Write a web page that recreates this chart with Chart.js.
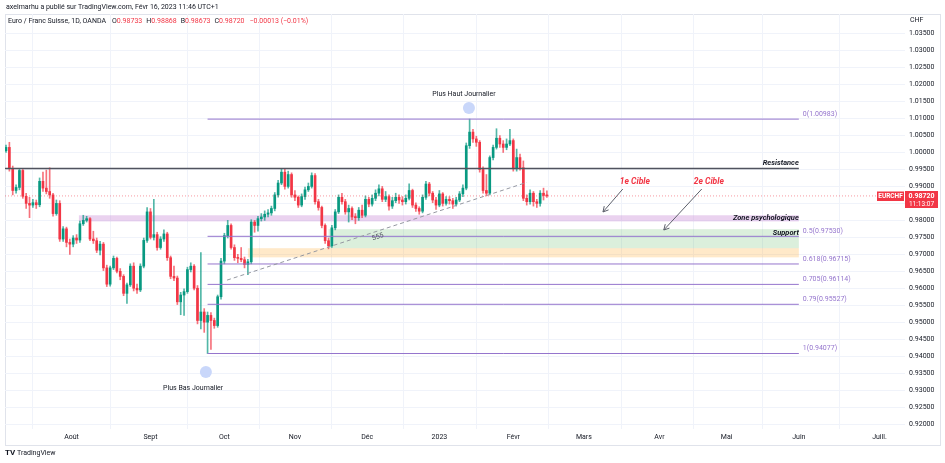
<!DOCTYPE html>
<html>
<head>
<meta charset="utf-8">
<script src="https://cdn.jsdelivr.net/npm/chart.js@4.4.1/dist/chart.umd.min.js"></script>
<style>
html,body{margin:0;padding:0;background:#fff}
#wrap{width:945px;height:463px;position:relative}
</style>
</head>
<body>
<div id="wrap"><canvas id="chart"></canvas></div>
<script>
// EURCHF daily candles, Jul 2022 -> Feb 16 2023
const firstOpen = 1.0005;
const closes = [
	1.0015,0.9953,0.9888,0.9897,0.9947,0.9871,0.9850,0.9845,0.9852,0.9846,
	0.9915,0.9895,0.9885,0.9875,0.9820,0.9850,0.9745,0.9775,0.9735,0.9730,
	0.9748,0.9742,0.9790,0.9800,0.9805,0.9745,0.9740,0.9712,0.9730,0.9660,
	0.9612,0.9660,0.9688,0.9650,0.9635,0.9585,0.9610,0.9665,0.9600,0.9595,
	0.9665,0.9741,0.9825,0.9750,0.9758,0.9720,0.9745,0.9760,0.9690,0.9635,
	0.9630,0.9560,0.9580,0.9590,0.9655,0.9665,0.9600,0.9505,0.9530,0.9500,
	0.9520,0.9505,0.9490,0.9575,0.9680,0.9755,0.9785,0.9720,0.9690,0.9688,
	0.9684,0.9670,0.9678,0.9795,0.9785,0.9805,0.9810,0.9818,0.9822,0.9835,
	0.9875,0.9910,0.9942,0.9900,0.9935,0.9875,0.9868,0.9845,0.9870,0.9890,
	0.9900,0.9932,0.9855,0.9838,0.9785,0.9740,0.9725,0.9778,0.9825,0.9868,
	0.9855,0.9825,0.9835,0.9810,0.9808,0.9830,0.9815,0.9862,0.9848,0.9865,
	0.9880,0.9893,0.9862,0.9870,0.9842,0.9858,0.9868,0.9860,0.9855,0.9865,
	0.9888,0.9845,0.9835,0.9827,0.9868,0.9907,0.9880,0.9860,0.9845,0.9878,
	0.9850,0.9862,0.9858,0.9848,0.9860,0.9878,0.9895,1.0020,1.0060,1.0040,
	1.0030,0.9950,0.9888,0.9880,0.9985,1.0015,1.0042,1.0025,1.0015,1.0025,
	1.0035,0.9952,0.9985,0.9955,0.9865,0.9855,0.9880,0.9855,0.9850,0.9880,
	0.98733,0.98720
];
const highs = [
	1.0022,1.0030,0.9960,0.9905,0.9952,0.9950,0.9880,0.9868,0.9862,0.9860,
	0.9925,0.9942,0.9948,0.9955,0.9880,0.9860,0.9858,0.9782,0.9780,0.9745,
	0.9755,0.9758,0.9798,0.9815,0.9812,0.9808,0.9768,0.9748,0.9738,0.9735,
	0.9668,0.9665,0.9695,0.9692,0.9658,0.9640,0.9615,0.9672,0.9675,0.9612,
	0.9672,0.9748,0.9838,0.9835,0.9862,0.9765,0.9752,0.9772,0.9765,0.9695,
	0.9665,0.9636,0.9588,0.9598,0.9662,0.9675,0.9670,0.9608,0.9705,0.9540,
	0.9530,0.9528,0.9512,0.9580,0.9688,0.9762,0.9800,0.9790,0.9728,0.9700,
	0.9720,0.9692,0.9685,0.9802,0.9800,0.9812,0.9820,0.9828,0.9832,0.9842,
	0.9882,0.9918,0.9952,0.9950,0.9945,0.9940,0.9888,0.9872,0.9878,0.9898,
	0.9910,0.9940,0.9938,0.9862,0.9842,0.9790,0.9748,0.9785,0.9832,0.9875,
	0.9880,0.9862,0.9845,0.9840,0.9820,0.9838,0.9845,0.9872,0.9868,0.9875,
	0.9890,0.9905,0.9900,0.9885,0.9875,0.9868,0.9880,0.9875,0.9870,0.9875,
	0.9908,0.9892,0.9852,0.9840,0.9875,0.9915,0.9912,0.9885,0.9868,0.9888,
	0.9882,0.9870,0.9870,0.9865,0.9868,0.9885,0.9905,1.0028,1.00983,1.0068,
	1.0048,1.0035,0.9958,0.9935,0.9990,1.0022,1.0070,1.0050,1.0035,1.0040,
	1.0068,1.0040,1.0010,0.9995,0.9975,0.9875,0.9890,0.9885,0.9862,0.9888,
	0.9895,0.98868
];
const lows = [
	1.0000,0.9945,0.9875,0.9880,0.9890,0.9865,0.9835,0.9808,0.9838,0.9835,
	0.9840,0.9885,0.9878,0.9865,0.9812,0.9815,0.9738,0.9738,0.9722,0.9700,
	0.9722,0.9732,0.9735,0.9785,0.9795,0.9740,0.9732,0.9705,0.9698,0.9652,
	0.9605,0.9606,0.9655,0.9645,0.9625,0.9578,0.9555,0.9605,0.9592,0.9585,
	0.9590,0.9660,0.9735,0.9745,0.9742,0.9712,0.9715,0.9738,0.9682,0.9628,
	0.9622,0.9552,0.9522,0.9520,0.9585,0.9648,0.9595,0.9495,0.9480,0.9470,
	0.94077,0.9420,0.9482,0.9485,0.9568,0.9672,0.9748,0.9715,0.9682,0.9675,
	0.9678,0.9660,0.9640,0.9672,0.9765,0.9768,0.9798,0.9800,0.9810,0.9815,
	0.9828,0.9868,0.9905,0.9892,0.9895,0.9868,0.9858,0.9838,0.9840,0.9862,
	0.9885,0.9895,0.9848,0.9830,0.9778,0.9732,0.9716,0.9720,0.9772,0.9820,
	0.9848,0.9818,0.9795,0.9802,0.9790,0.9800,0.9808,0.9810,0.9840,0.9842,
	0.9858,0.9872,0.9855,0.9855,0.9830,0.9835,0.9852,0.9850,0.9845,0.9848,
	0.9860,0.9838,0.9826,0.9818,0.9822,0.9862,0.9872,0.9852,0.9832,0.9840,
	0.9842,0.9845,0.9848,0.9835,0.9842,0.9855,0.9870,0.9890,1.0012,1.0030,
	1.0018,0.9942,0.9880,0.9872,0.9875,0.9978,1.0010,1.0015,1.0000,1.0008,
	1.0020,0.9945,0.9945,0.9948,0.9858,0.9845,0.9848,0.9842,0.9838,0.9842,
	0.9860,0.98673
];

// time axis (bar index of each month label)
const monthPos = [19.5, 43, 65, 86, 107.5, 129, 151, 172, 194.5, 214.5, 236, 260];
const monthLabels = ['Août','Sept','Oct','Nov','Déc','2023','Févr','Mars','Avr','Mai','Juin','Juill.'];

// price axis
const priceTicks = [0.920,0.925,0.930,0.935,0.940,0.945,0.950,0.955,0.960,0.965,0.970,0.975,
	0.980,0.985,0.990,0.995,1.000,1.005,1.010,1.015,1.020,1.025,1.030,1.035];

// fibonacci retracement
const fibNames = ['0','0.5','0.618','0.705','0.79','1'];
const fibLevels = [1.00983, 0.97530, 0.96715, 0.96114, 0.95527, 0.94077];

const resistance = 0.9953;
const lastPrice = 0.98720;
const headerValues = ['0.98733','0.98868','0.98673','0.98720'];
const headerKeys = ['O','H','B','C'];

const UP = '#089981', DOWN = '#f23645', TXT = '#131722';
const opens = closes.map((c, i) => i === 0 ? firstOpen : closes[i - 1]);
const isUp = i => closes[i] >= opens[i];

Chart.defaults.font.family = 'Roboto, "Liberation Sans", sans-serif';

function hline(y, x0, x1, color, width, dash){
	return {
		type: 'line',
		data: [{x: x0, y: y}, {x: x1, y: y}],
		borderColor: color, borderWidth: width, borderDash: dash || [],
		pointRadius: 0, order: 0
	};
}

/** Bands, texts, arrows, header **/
const drawings = {
	id: 'drawings',
	beforeDraw(chart){
		const c = chart.ctx;
		c.save();
		c.strokeStyle = '#e0e3eb';
		c.lineWidth = 1;
		c.strokeRect(5.5, 14.5, 935, 431);
		c.restore();
	},
	beforeDatasetsDraw(chart){
		const c = chart.ctx, xs = chart.scales.x, ys = chart.scales.y;
		const band = (x0, x1, p0, p1, col) => {
			const l = xs.getPixelForValue(x0), r = xs.getPixelForValue(x1);
			const t = ys.getPixelForValue(p1), b = ys.getPixelForValue(p0);
			c.fillStyle = col;
			c.fillRect(l, t, r - l, b - t);
		};
		c.save();
		band(21.7, 236, 0.9797, 0.9815, 'rgba(206,147,216,0.42)');
		band(96, 236, 0.9718, 0.9774, 'rgba(76,175,80,0.2)');
		band(72, 236, 0.9691, 0.9718, 'rgba(255,167,38,0.25)');
		c.restore();
	},
	afterDraw(chart){
		const c = chart.ctx, xs = chart.scales.x, ys = chart.scales.y;
		const X = v => xs.getPixelForValue(v), Y = v => ys.getPixelForValue(v);
		c.save();
		// header
		c.font = '7px Roboto';
		c.fillStyle = TXT;
		c.textBaseline = 'middle';
		c.textAlign = 'left';
		c.fillText('axelmarhu a publié sur TradingView.com, Févr 16, 2023 11:46 UTC+1', 6, 7);
		const title = 'Euro / Franc Suisse, 1D, OANDA';
		c.fillText(title, 8, 21);
		let hx = 8 + c.measureText(title).width + 6;
		headerKeys.forEach((k, i) => {
			c.fillStyle = TXT;
			c.fillText(k, hx, 21);
			hx += c.measureText(k).width;
			c.fillStyle = DOWN;
			c.fillText(headerValues[i], hx, 21);
			hx += c.measureText(headerValues[i]).width + 4;
		});
		c.fillText('\u22120.00013 (\u22120.01%)', hx + 1, 21);
		c.fillStyle = TXT;
		c.fillText('CHF', 910, 20);

		// fib labels
		c.fillStyle = '#9575cd';
		fibLevels.forEach((lv, i) => {
			c.fillText(fibNames[i] + '(' + lv.toFixed(5) + ')', X(237.2), Y(lv) - 5);
		});

		// zone labels
		c.font = 'italic bold 7.5px Roboto';
		c.fillStyle = TXT;
		c.textAlign = 'right';
		c.fillText('Resistance', X(236), Y(resistance) - 5);
		c.fillText('Zone psychologique', X(236), Y(0.9806));
		c.fillText('Support', X(236), Y(0.9763));

		// targets
		c.font = 'italic bold 8.5px Roboto';
		c.fillStyle = DOWN;
		c.textAlign = 'center';
		c.fillText('1e Cible', X(187.2), Y(0.9913));
		c.fillText('2e Cible', X(209.2), Y(0.9913));
		const arrow = (a, b, p, q) => {
			const x0 = X(a), y0 = Y(b), x1 = X(p), y1 = Y(q);
			const ang = Math.atan2(y1 - y0, x1 - x0);
			c.strokeStyle = '#5d606b';
			c.lineWidth = 1;
			c.beginPath();
			c.moveTo(x0, y0); c.lineTo(x1, y1);
			c.moveTo(x1, y1); c.lineTo(x1 - 6 * Math.cos(ang - 0.5), y1 - 6 * Math.sin(ang - 0.5));
			c.moveTo(x1, y1); c.lineTo(x1 - 6 * Math.cos(ang + 0.5), y1 - 6 * Math.sin(ang + 0.5));
			c.stroke();
		};
		arrow(183.6, 0.98924, 177.7, 0.98247);
		arrow(207.1, 0.98924, 195.8, 0.97716);

		// trendline label
		c.save();
		c.translate(X(110.7), Y(0.9751));
		c.rotate(-0.32);
		c.font = '7px Roboto';
		c.fillStyle = '#50535e';
		c.fillText('555', 0, 0);
		c.restore();

		// daily high / low markers
		c.fillStyle = '#c9d7fa';
		c.beginPath(); c.arc(X(137.8), Y(1.0131), 6, 0, Math.PI * 2); c.fill();
		c.beginPath(); c.arc(X(59.5), Y(0.9353), 6, 0, Math.PI * 2); c.fill();
		c.font = '7px Roboto';
		c.fillStyle = TXT;
		c.fillText('Plus Haut Journalier', X(136.3), Y(1.0172));
		c.fillText('Plus Bas Journalier', X(55.7), Y(0.9306));

		// last price labels
		const py = Math.round(Y(lastPrice));
		c.fillStyle = DOWN;
		c.fillRect(877, py - 4.5, 27, 9.5);
		c.fillRect(905, py - 5, 33, 17);
		c.fillStyle = '#fff';
		c.font = 'bold 6.5px Roboto';
		c.fillText('EURCHF', 890.5, py);
		c.font = 'bold 7px Roboto';
		c.fillText(lastPrice.toFixed(5), 921.5, py);
		c.font = '6.5px Roboto';
		c.fillText('11:13:07', 921.5, py + 8);

		// footer logo
		c.fillStyle = TXT;
		c.font = 'bold 8px Roboto';
		c.textAlign = 'left';
		c.fillText('TV', 5, 453);
		c.font = '7px Roboto';
		c.fillText('TradingView', 17, 453);
		c.restore();
	}
};

const wicks = {
	type: 'bar',
	data: closes.map((c, i) => ({x: i, y: [lows[i], highs[i]]})),
	backgroundColor: ctx => isUp(ctx.dataIndex) ? 'rgba(8,153,129,0.7)' : 'rgba(242,54,69,0.7)',
	barThickness: 1,
	grouped: false,
	order: 2
};
const bodies = {
	type: 'bar',
	data: closes.map((c, i) => ({x: i, y: [opens[i], c]})),
	backgroundColor: ctx => isUp(ctx.dataIndex) ? UP : DOWN,
	barThickness: 2,
	minBarLength: 1,
	grouped: false,
	order: 1
};

const fibSets = fibLevels.map(lv => hline(lv, 60, 236, '#9575cd', 1));
const trend = {
	type: 'line',
	data: [{x: 65.8, y: 0.9624}, {x: 155, y: 0.99118}],
	borderColor: '#9598a1', borderWidth: 1, borderDash: [4, 3],
	pointRadius: 0, order: 0
};

new Chart(document.getElementById('chart'), {
	type: 'bar',
	data: {
		datasets: [
			hline(lastPrice, -0.3, 267.6, 'rgba(242,54,69,0.5)', 1, [1, 2]),
			hline(resistance, -0.3, 236, '#50535e', 1.5),
			trend
		].concat(fibSets, [wicks, bodies])
	},
	options: {
		responsive: true,
		maintainAspectRatio: false,
		animation: false,
		devicePixelRatio: 1,
		layout: {padding: {left: 5, right: 5, top: 14, bottom: 18}},
		plugins: {legend: {display: false}, tooltip: {enabled: false}},
		scales: {
			x: {
				type: 'linear',
				min: -0.3,
				max: 267.6,
				offset: false,
				grid: {color: '#f0f3fa', drawTicks: false},
				border: {display: false},
				afterBuildTicks: s => { s.ticks = monthPos.map(v => ({value: v})); },
				afterFit: s => { s.height = 16; },
				ticks: {
					autoSkip: false, maxRotation: 0, padding: 4,
					color: TXT, font: {size: 7},
					callback: (v, i) => monthLabels[i]
				}
			},
			y: {
				position: 'right',
				min: 0.91853,
				max: 1.0408,
				grid: {color: '#f0f3fa', drawTicks: false},
				border: {display: false},
				afterBuildTicks: s => { s.ticks = priceTicks.map(v => ({value: v})); },
				afterFit: s => { s.width = 35; },
				ticks: {
					padding: 4, color: TXT, font: {size: 7},
					callback: v => v.toFixed(5)
				}
			}
		}
	},
	plugins: [drawings]
});
</script>
</body>
</html>
